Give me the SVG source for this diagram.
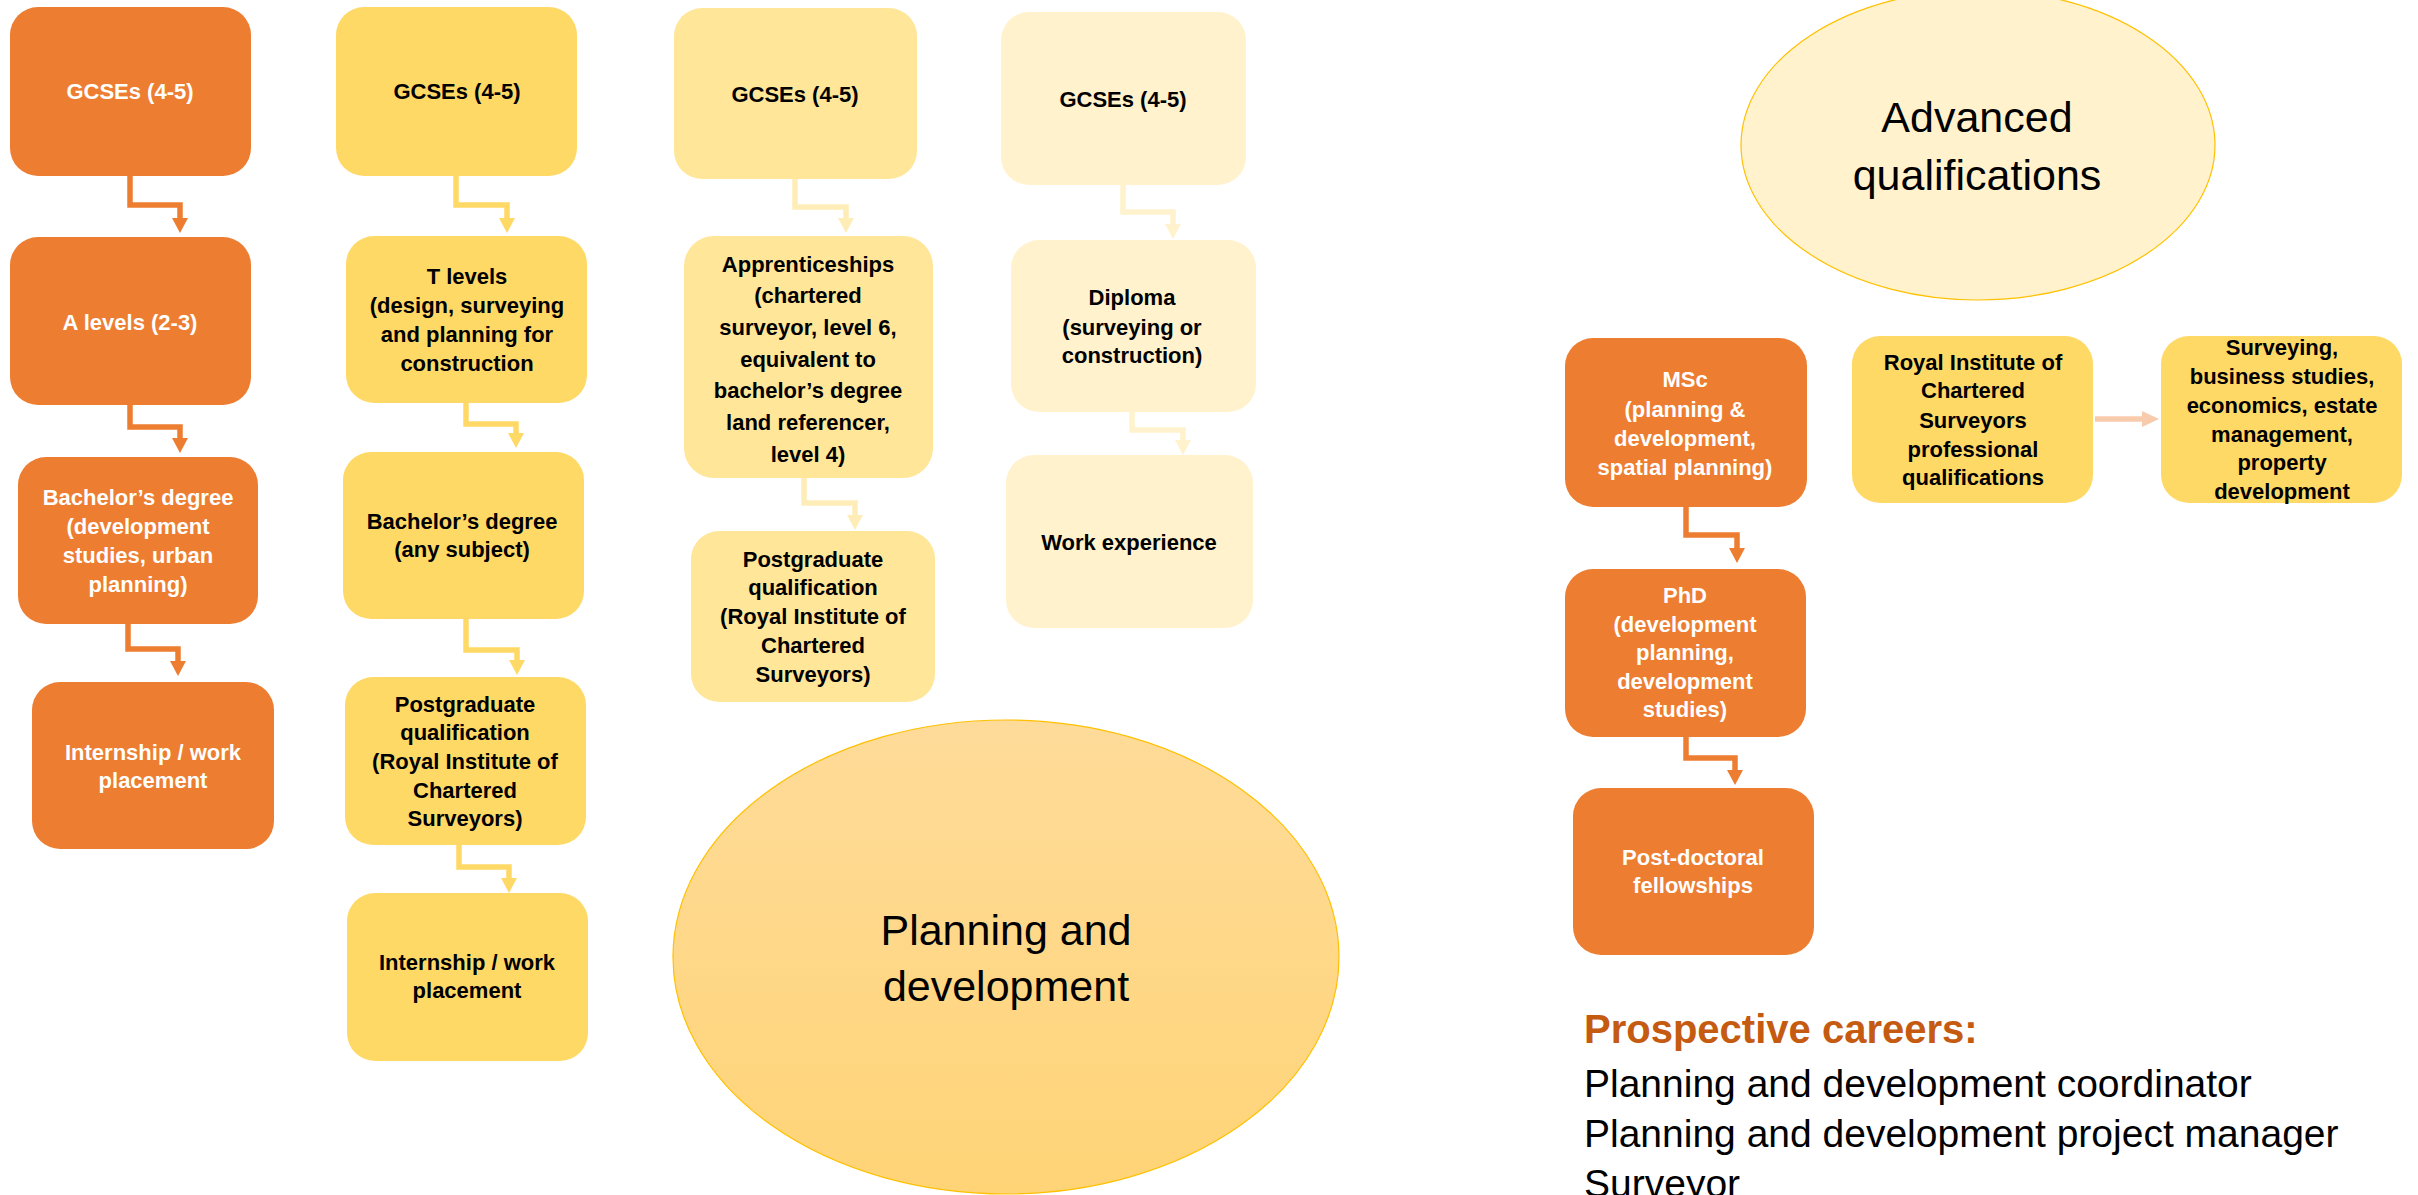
<svg xmlns="http://www.w3.org/2000/svg" width="2418" height="1195" viewBox="0 0 2418 1195">
<defs>
<style>
.t{font-family:"Liberation Sans",Arial,sans-serif;font-weight:bold;font-size:22px;text-anchor:middle}
.w{fill:#FFFFFF}
.k{fill:#000000}
.o{fill:#ED7D31}
.y{fill:#FFD966}
.y3{fill:#FFE699}
.y4{fill:#FFF2CC}
.big{font-family:"Liberation Sans",Arial,sans-serif;font-size:43px;text-anchor:middle;fill:#000}
.c{fill:none;stroke-width:5.5}
.co{stroke:#ED7D31}
.cy{stroke:#FFD966}
.cy3{stroke:#FFEDB8}
.cy4{stroke:#FFF2CC}
.cp{stroke:#F8CBAD}
.car{font-family:"Liberation Sans",Arial,sans-serif;font-size:39px;fill:#000}
</style>
<linearGradient id="g1" x1="0" y1="0" x2="0" y2="1">
<stop offset="0" stop-color="#FEDB99"/>
<stop offset="1" stop-color="#FFD477"/>
</linearGradient>
<marker id="ao" viewBox="0 0 15 16" refX="0" refY="8" markerWidth="15" markerHeight="16" markerUnits="userSpaceOnUse" orient="auto"><path d="M0,0L15,8L0,16z" fill="#ED7D31"/></marker>
<marker id="ay" viewBox="0 0 15 16" refX="0" refY="8" markerWidth="15" markerHeight="16" markerUnits="userSpaceOnUse" orient="auto"><path d="M0,0L15,8L0,16z" fill="#FFD966"/></marker>
<marker id="ay3" viewBox="0 0 15 16" refX="0" refY="8" markerWidth="15" markerHeight="16" markerUnits="userSpaceOnUse" orient="auto"><path d="M0,0L15,8L0,16z" fill="#FFEDB8"/></marker>
<marker id="ay4" viewBox="0 0 15 16" refX="0" refY="8" markerWidth="15" markerHeight="16" markerUnits="userSpaceOnUse" orient="auto"><path d="M0,0L15,8L0,16z" fill="#FFF2CC"/></marker>
<marker id="ap" viewBox="0 0 17 16" refX="0" refY="8" markerWidth="17" markerHeight="16" markerUnits="userSpaceOnUse" orient="auto"><path d="M0,0L17,8L0,16z" fill="#F8CBAD"/></marker>
</defs>
<rect width="2418" height="1195" fill="#FFFFFF"/>

<g id="ellipse-planning">
<ellipse cx="1006" cy="957" rx="333" ry="237" fill="url(#g1)" stroke="#FFC000" stroke-width="1.2"/>
<text class="big" x="1006" y="945">Planning and</text>
<text class="big" x="1006" y="1001">development</text>
</g>
<g id="ellipse-advanced">
<ellipse cx="1978" cy="145" rx="237" ry="155" fill="#FFF2CC" stroke="#FFC000" stroke-width="1.2"/>
<text class="big" x="1977" y="132">Advanced</text>
<text class="big" x="1977" y="190">qualifications</text>
</g>

<g id="connectors">
<path class="c co" d="M130,176V205H180V218" marker-end="url(#ao)"/>
<path class="c co" d="M130,405V427H180V438" marker-end="url(#ao)"/>
<path class="c co" d="M128,624V649H178V661" marker-end="url(#ao)"/>
<path class="c cy" d="M456,176V205H507V218" marker-end="url(#ay)"/>
<path class="c cy" d="M466,403V424H516V433" marker-end="url(#ay)"/>
<path class="c cy" d="M466,619V650H517V660" marker-end="url(#ay)"/>
<path class="c cy" d="M459,845V867H509V878" marker-end="url(#ay)"/>
<path class="c cy3" d="M795,179V207H846V218" marker-end="url(#ay3)"/>
<path class="c cy3" d="M804,478V503H855V515" marker-end="url(#ay3)"/>
<path class="c cy4" d="M1123,185V212H1173V224" marker-end="url(#ay4)"/>
<path class="c cy4" d="M1132,412V430H1183V440" marker-end="url(#ay4)"/>
<path class="c co" d="M1686,507V535H1737V548" marker-end="url(#ao)"/>
<path class="c co" d="M1686,737V758H1735V770" marker-end="url(#ao)"/>
<path class="c cp" d="M2095,419H2142" marker-end="url(#ap)"/>
</g>

<g id="n1"><rect class="o" x="10" y="7" width="241" height="169" rx="28"/><text class="t w" x="130" y="99">GCSEs (4-5)</text></g>
<g id="n2"><rect class="o" x="10" y="237" width="241" height="168" rx="28"/><text class="t w" x="130" y="330">A levels (2-3)</text></g>
<g id="n3"><rect class="o" x="18" y="457" width="240" height="167" rx="28"/>
<text class="t w" x="138" y="505">Bachelor’s degree</text>
<text class="t w" x="138" y="534">(development</text>
<text class="t w" x="138" y="563">studies, urban</text>
<text class="t w" x="138" y="592">planning)</text></g>
<g id="n4"><rect class="o" x="32" y="682" width="242" height="167" rx="28"/>
<text class="t w" x="153" y="760">Internship / work</text>
<text class="t w" x="153" y="788">placement</text></g>

<g id="n5"><rect class="y" x="336" y="7" width="241" height="169" rx="28"/><text class="t k" x="457" y="99">GCSEs (4-5)</text></g>
<g id="n6"><rect class="y" x="346" y="236" width="241" height="167" rx="28"/>
<text class="t k" x="467" y="284">T levels</text>
<text class="t k" x="467" y="313">(design, surveying</text>
<text class="t k" x="467" y="342">and planning for</text>
<text class="t k" x="467" y="371">construction</text></g>
<g id="n7"><rect class="y" x="343" y="452" width="241" height="167" rx="28"/>
<text class="t k" x="462" y="529">Bachelor’s degree</text>
<text class="t k" x="462" y="557">(any subject)</text></g>
<g id="n8"><rect class="y" x="345" y="677" width="241" height="168" rx="28"/>
<text class="t k" x="465" y="712">Postgraduate</text>
<text class="t k" x="465" y="740">qualification</text>
<text class="t k" x="465" y="769">(Royal Institute of</text>
<text class="t k" x="465" y="798">Chartered</text>
<text class="t k" x="465" y="826">Surveyors)</text></g>
<g id="n9"><rect class="y" x="347" y="893" width="241" height="168" rx="28"/>
<text class="t k" x="467" y="970">Internship / work</text>
<text class="t k" x="467" y="998">placement</text></g>

<g id="n10"><rect class="y3" x="674" y="8" width="243" height="171" rx="28"/><text class="t k" x="795" y="102">GCSEs (4-5)</text></g>
<g id="n11"><rect class="y3" x="684" y="236" width="249" height="242" rx="30"/>
<text class="t k" x="808" y="272">Apprenticeships</text>
<text class="t k" x="808" y="303">(chartered</text>
<text class="t k" x="808" y="335">surveyor, level 6,</text>
<text class="t k" x="808" y="367">equivalent to</text>
<text class="t k" x="808" y="398">bachelor’s degree</text>
<text class="t k" x="808" y="430">land referencer,</text>
<text class="t k" x="808" y="462">level 4)</text></g>
<g id="n12"><rect class="y3" x="691" y="531" width="244" height="171" rx="28"/>
<text class="t k" x="813" y="567">Postgraduate</text>
<text class="t k" x="813" y="595">qualification</text>
<text class="t k" x="813" y="624">(Royal Institute of</text>
<text class="t k" x="813" y="653">Chartered</text>
<text class="t k" x="813" y="682">Surveyors)</text></g>

<g id="n13"><rect class="y4" x="1001" y="12" width="245" height="173" rx="28"/><text class="t k" x="1123" y="107">GCSEs (4-5)</text></g>
<g id="n14"><rect class="y4" x="1011" y="240" width="245" height="172" rx="28"/>
<text class="t k" x="1132" y="305">Diploma</text>
<text class="t k" x="1132" y="335">(surveying or</text>
<text class="t k" x="1132" y="363">construction)</text></g>
<g id="n15"><rect class="y4" x="1006" y="455" width="247" height="173" rx="28"/>
<text class="t k" x="1129" y="550">Work experience</text></g>

<g id="n16"><rect class="o" x="1565" y="338" width="242" height="169" rx="28"/>
<text class="t w" x="1685" y="387">MSc</text>
<text class="t w" x="1685" y="417">(planning &amp;</text>
<text class="t w" x="1685" y="446">development,</text>
<text class="t w" x="1685" y="475">spatial planning)</text></g>
<g id="n17"><rect class="o" x="1565" y="569" width="241" height="168" rx="28"/>
<text class="t w" x="1685" y="603">PhD</text>
<text class="t w" x="1685" y="632">(development</text>
<text class="t w" x="1685" y="660">planning,</text>
<text class="t w" x="1685" y="689">development</text>
<text class="t w" x="1685" y="717">studies)</text></g>
<g id="n18"><rect class="o" x="1573" y="788" width="241" height="167" rx="28"/>
<text class="t w" x="1693" y="865">Post-doctoral</text>
<text class="t w" x="1693" y="893">fellowships</text></g>

<g id="n19"><rect class="y" x="1852" y="336" width="241" height="167" rx="28"/>
<text class="t k" x="1973" y="370">Royal Institute of</text>
<text class="t k" x="1973" y="398">Chartered</text>
<text class="t k" x="1973" y="428">Surveyors</text>
<text class="t k" x="1973" y="457">professional</text>
<text class="t k" x="1973" y="485">qualifications</text></g>
<g id="n20"><rect class="y" x="2161" y="336" width="241" height="167" rx="28"/>
<text class="t k" x="2282" y="355">Surveying,</text>
<text class="t k" x="2282" y="384">business studies,</text>
<text class="t k" x="2282" y="413">economics, estate</text>
<text class="t k" x="2282" y="442">management,</text>
<text class="t k" x="2282" y="470">property</text>
<text class="t k" x="2282" y="499">development</text></g>

<g id="careers">
<text x="1584" y="1043" style="font-family:'Liberation Sans',Arial,sans-serif;font-weight:bold;font-size:40px;fill:#C55A11">Prospective careers:</text>
<text class="car" x="1584" y="1097">Planning and development coordinator</text>
<text class="car" x="1584" y="1147">Planning and development project manager</text>
<text class="car" x="1584" y="1197">Surveyor</text>
</g>
</svg>
